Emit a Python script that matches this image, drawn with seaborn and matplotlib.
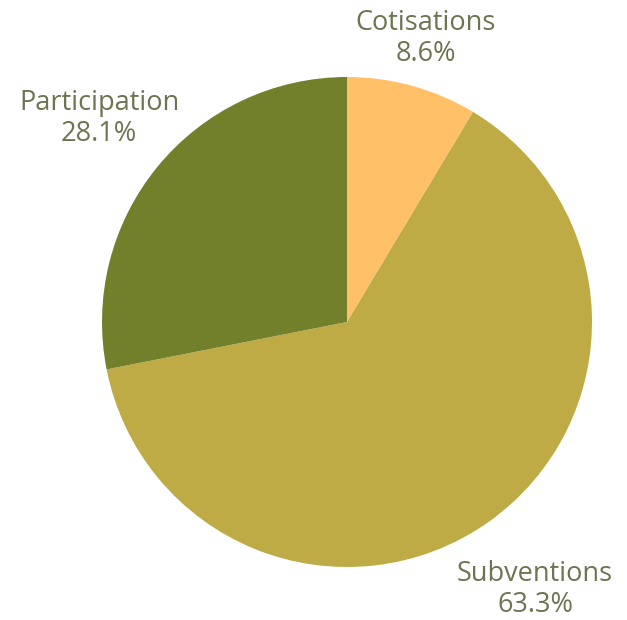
import numpy as np
import matplotlib
matplotlib.use("Agg")
import matplotlib.pyplot as plt
import seaborn as sns

# données
categories = ["Cotisations", "Subventions", "Participation"]
values = [8.6, 63.3, 28.1]
colors = ["#FFC067", "#BFAB45", "#72802B"]

sns.set_theme(style="white")
plt.rcParams["font.family"] = ["Open Sans", "DejaVu Sans"]

text_color = "#6B7550"

fig = plt.figure(figsize=(6.27, 6.20), dpi=100)
fig.set_facecolor("white")
# centre ~ (347, 322) px, rayon ~245 px
cx, cy, r = 347, 322, 245
ax = fig.add_axes([(cx - r) / 627, (620 - cy - r) / 620, 2 * r / 627, 2 * r / 620])

wedges, _ = ax.pie(
    values,
    colors=colors,
    startangle=90,
    counterclock=False,
    radius=1.0,
    wedgeprops=dict(linewidth=0),
)
ax.set_xlim(-1, 1)
ax.set_ylim(-1, 1)
ax.set_aspect("equal")
ax.axis("off")

# étiquettes à l'extérieur
dists = [1.20, 1.335, 1.31]
for w, cat, v, d in zip(wedges, categories, values, dists):
    ang = np.deg2rad((w.theta1 + w.theta2) / 2)
    x, y = d * np.cos(ang), d * np.sin(ang)
    ax.text(x, y, f"{cat}\n{v:.1f}%", ha="center", va="center",
            fontsize=19.5, color=text_color, linespacing=1.15, clip_on=False)

fig.savefig("out.png", dpi=100, facecolor="white")
